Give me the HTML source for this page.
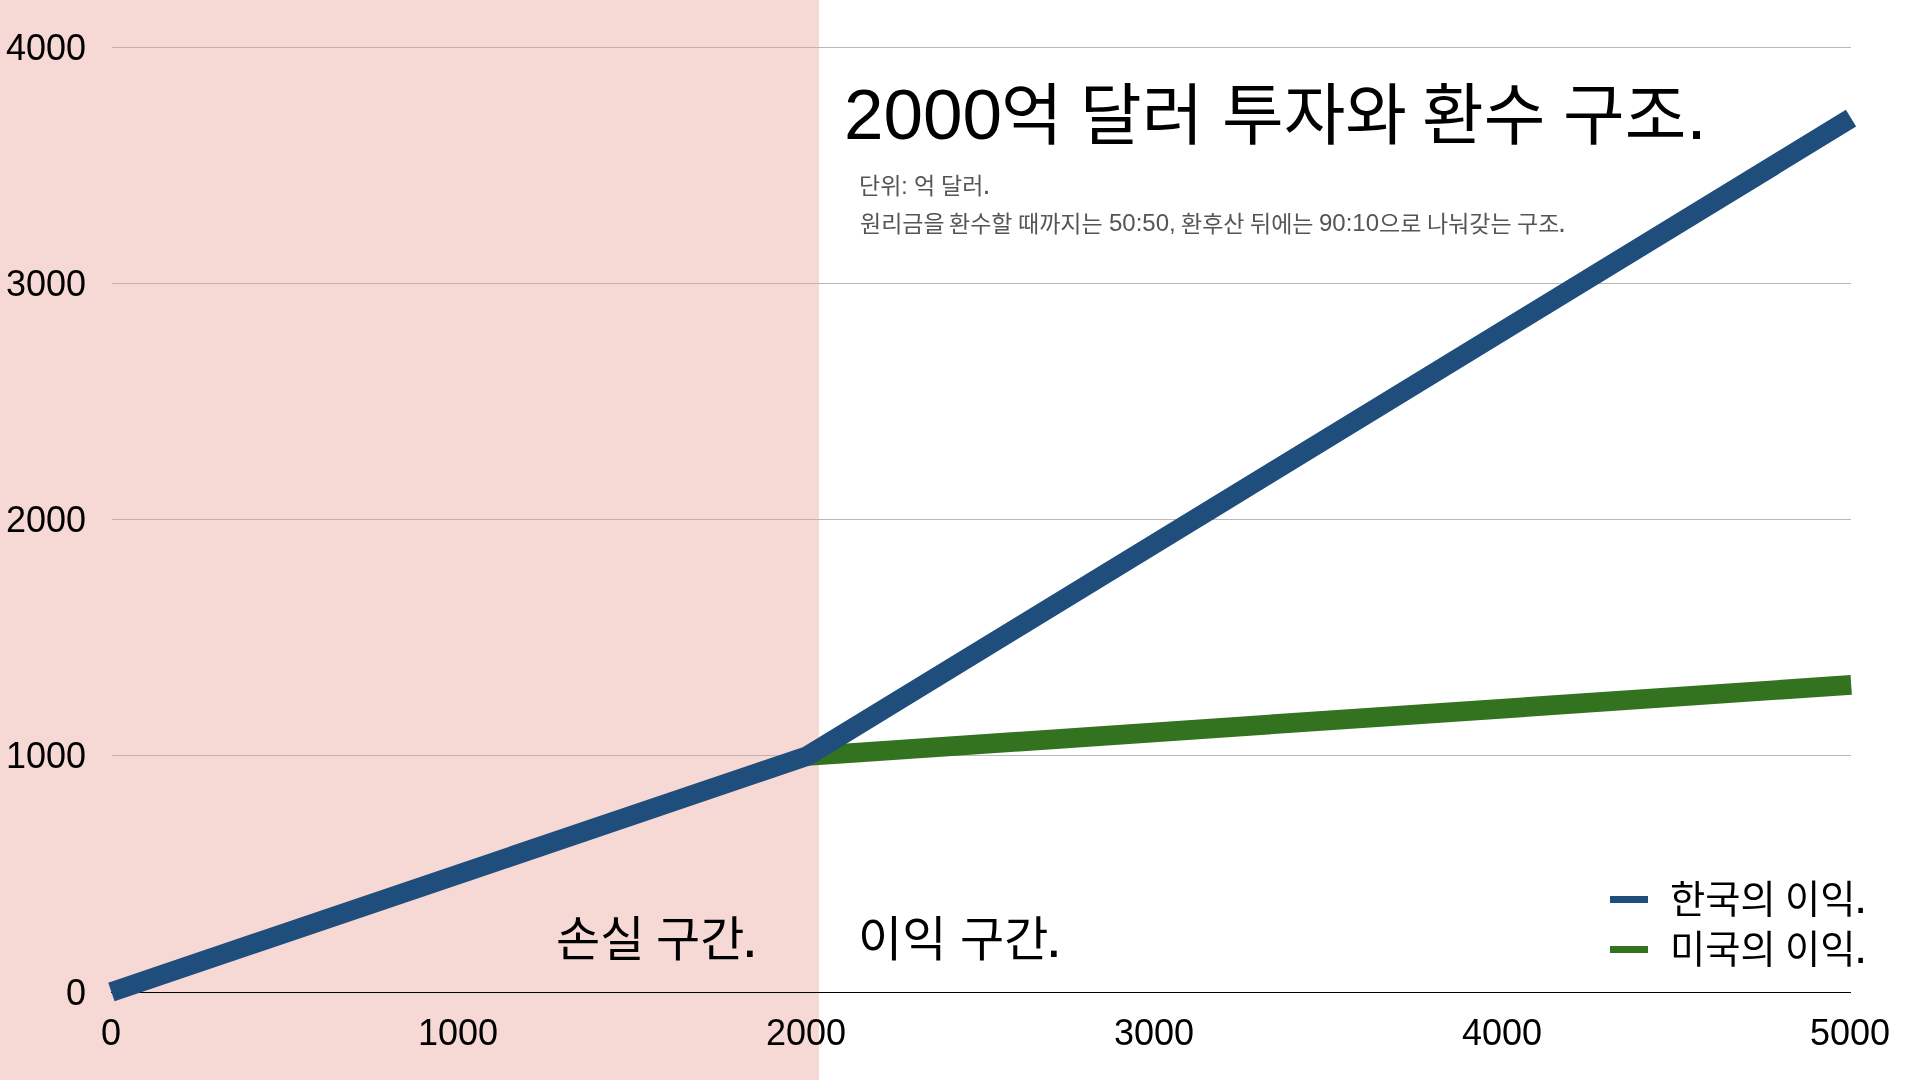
<!DOCTYPE html>
<html lang="ko">
<head>
<meta charset="utf-8">
<title>2000억 달러 투자와 환수 구조</title>
<style>
html,body{margin:0;padding:0;}
body{width:1920px;height:1080px;overflow:hidden;background:#fff;position:relative;
  font-family:"Liberation Sans","Noto Sans CJK KR",sans-serif;color:#000;}
svg{position:absolute;left:0;top:0;}
.t{position:absolute;white-space:nowrap;line-height:1;will-change:transform;}
.p{font-size:1.25em;line-height:0;}
.pt{font-size:1.1em;line-height:0;}
.yl{position:absolute;right:1834.2px;font-size:36px;line-height:1;will-change:transform;}
.xl{position:absolute;font-size:36px;line-height:1;transform:translateX(-50%);will-change:transform;}
</style>
</head>
<body>
<svg width="1920" height="1080" viewBox="0 0 1920 1080">
  <rect x="0" y="0" width="819" height="1080" fill="#f6d8d5"/>
  <g stroke="#c5b0ae" stroke-width="1" shape-rendering="crispEdges">
    <line x1="112" y1="47.5" x2="819" y2="47.5"/>
    <line x1="112" y1="283.5" x2="819" y2="283.5"/>
    <line x1="112" y1="519.5" x2="819" y2="519.5"/>
    <line x1="112" y1="755.5" x2="819" y2="755.5"/>
  </g>
  <g stroke="#b8b8b8" stroke-width="1" shape-rendering="crispEdges">
    <line x1="819" y1="47.5" x2="1851" y2="47.5"/>
    <line x1="819" y1="283.5" x2="1851" y2="283.5"/>
    <line x1="819" y1="519.5" x2="1851" y2="519.5"/>
    <line x1="819" y1="755.5" x2="1851" y2="755.5"/>
  </g>
  <line x1="111" y1="992.5" x2="1851" y2="992.5" stroke="#000" stroke-width="1" shape-rendering="crispEdges"/>
  <polyline points="807.4,756 1851.2,684.9" fill="none" stroke="#33721f" stroke-width="19.7" stroke-linejoin="round"/>
  <polyline points="111.4,992 807.4,756 1851,118.2" fill="none" stroke="#1f4e7d" stroke-width="19.7" stroke-linejoin="round"/>
  <rect x="1610" y="896" width="38" height="7" fill="#1f4e7d"/>
  <rect x="1610" y="946" width="38" height="7" fill="#33721f"/>
</svg>
<div class="yl" style="top:30px">4000</div>
<div class="yl" style="top:266px">3000</div>
<div class="yl" style="top:502px">2000</div>
<div class="yl" style="top:738px">1000</div>
<div class="yl" style="top:975px">0</div>
<div class="xl" style="left:110.6px;top:1015px">0</div>
<div class="xl" style="left:458.4px;top:1015px">1000</div>
<div class="xl" style="left:806.2px;top:1015px">2000</div>
<div class="xl" style="left:1154px;top:1015px">3000</div>
<div class="xl" style="left:1501.8px;top:1015px">4000</div>
<div class="xl" style="left:1849.6px;top:1015px">5000</div>
<div class="t" style="left:844.4px;top:78.9px;font-size:71px;color:#000">2000</div>
<div class="t" style="left:1000.9px;top:82.1px;font-size:67px;color:#000">억</div>
<div class="t" style="left:1079.8px;top:82.1px;font-size:67px;color:#000">달러</div>
<div class="t" style="left:1221.9px;top:82.1px;font-size:67px;color:#000">투자와</div>
<div class="t" style="left:1421.8px;top:82.1px;font-size:67px;color:#000">환수</div>
<div class="t" style="left:1563.2px;top:82.1px;font-size:67px;color:#000">구조<span class="pt">.</span></div>
<div class="t" style="left:859.2px;top:175.4px;font-size:23px;color:#555555">단위:</div>
<div class="t" style="left:914.2px;top:175.4px;font-size:23px;color:#555555">억</div>
<div class="t" style="left:941.3px;top:175.4px;font-size:23px;color:#555555">달러<span class="p" style="margin-left:-0.8px">.</span></div>
<div class="t" style="left:859.7px;top:212.5px;font-size:23px;color:#555555">원리금을</div>
<div class="t" style="left:949.0px;top:212.5px;font-size:23px;color:#555555">환수할</div>
<div class="t" style="left:1017.9px;top:212.5px;font-size:23px;color:#555555">때까지는</div>
<div class="t" style="left:1108.5px;top:210.9px;font-size:24px;color:#555555">50:50,</div>
<div class="t" style="left:1181.1px;top:212.5px;font-size:23px;color:#555555">환후산</div>
<div class="t" style="left:1250.0px;top:212.5px;font-size:23px;color:#555555">뒤에는</div>
<div class="t" style="left:1319.4px;top:210.9px;font-size:24px;color:#555555">90:10</div>
<div class="t" style="left:1379.0px;top:212.5px;font-size:23px;color:#555555">으로</div>
<div class="t" style="left:1427.0px;top:212.5px;font-size:23px;color:#555555">나눠갖는</div>
<div class="t" style="left:1517.2px;top:212.5px;font-size:23px;color:#555555">구조<span class="p" style="margin-left:-1.3px">.</span></div>
<div class="t" style="left:555.8px;top:916.2px;font-size:48px;color:#000">손실</div>
<div class="t" style="left:656.3px;top:916.2px;font-size:48px;color:#000">구간<span class="p" style="margin-left:-2.8px;position:relative;top:1.2px">.</span></div>
<div class="t" style="left:858.0px;top:916.1px;font-size:48px;color:#000">이익</div>
<div class="t" style="left:959.7px;top:916.1px;font-size:48px;color:#000">구간<span class="p" style="margin-left:-2.8px;position:relative;top:1.2px">.</span></div>
<div class="t" style="left:1670.0px;top:881.3px;font-size:38.3px;color:#000">한국의</div>
<div class="t" style="left:1785.3px;top:881.3px;font-size:38.3px;color:#000">이익<span class="p" style="margin-left:-1.5px">.</span></div>
<div class="t" style="left:1670.0px;top:931.2px;font-size:38.3px;color:#000">미국의</div>
<div class="t" style="left:1785.3px;top:931.2px;font-size:38.3px;color:#000">이익<span class="p" style="margin-left:-1.5px">.</span></div>
</body>
</html>
